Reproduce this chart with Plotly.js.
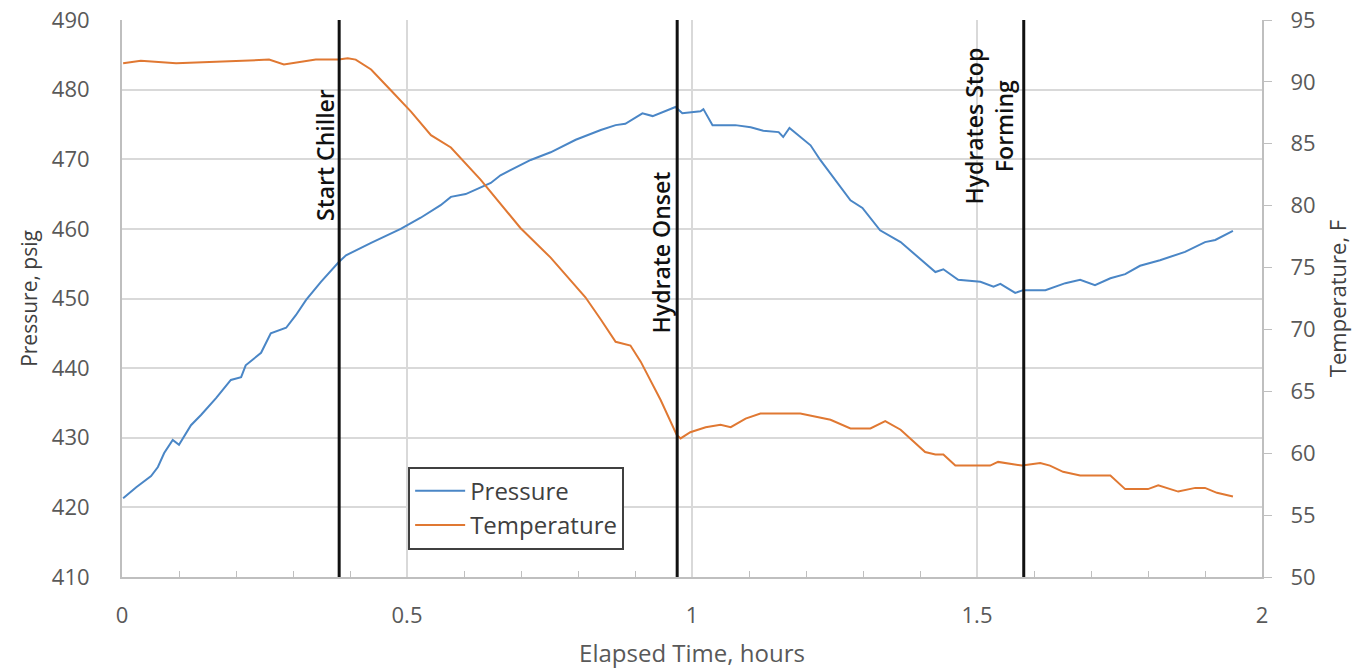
<!DOCTYPE html>
<html>
<head>
<meta charset="utf-8">
<script src="https://cdn.plot.ly/plotly-3.0.1.min.js"></script>
<style>html,body{margin:0;padding:0;background:#fff;}#chart{width:1352px;height:669px;}</style>
</head>
<body>
<div id="chart"></div>
<script>
// Pressure series (elapsed hours, psig)
const pressureTime = [0.002,0.025,0.051,0.063,0.074,0.089,0.100,0.121,0.139,0.165,0.191,0.209,0.217,0.244,0.261,0.288,0.305,0.323,0.349,0.380,0.393,0.437,0.489,0.524,0.559,0.577,0.603,0.647,0.664,0.717,0.752,0.796,0.840,0.866,0.883,0.913,0.931,0.971,0.983,1.015,1.020,1.036,1.076,1.103,1.125,1.152,1.160,1.171,1.208,1.225,1.278,1.299,1.330,1.366,1.427,1.441,1.467,1.506,1.529,1.541,1.567,1.581,1.620,1.655,1.681,1.707,1.734,1.760,1.786,1.821,1.865,1.900,1.918,1.949];
const pressure = [421.3,422.9,424.5,425.8,427.8,429.7,429.0,431.8,433.3,435.7,438.3,438.7,440.4,442.2,445.0,445.8,447.6,449.8,452.4,455.2,456.2,458.0,460.0,461.6,463.4,464.6,465.0,466.6,467.7,469.9,471.0,472.8,474.2,474.9,475.1,476.6,476.2,477.5,476.6,476.9,477.2,474.9,474.9,474.6,474.1,473.9,473.2,474.5,472.0,469.9,464.1,463.0,459.8,458.1,453.8,454.2,452.7,452.4,451.7,452.1,450.8,451.2,451.2,452.2,452.7,451.9,452.9,453.5,454.7,455.5,456.7,458.1,458.4,459.7];

// Temperature series (elapsed hours, F)
const tempTime = [0.002,0.033,0.095,0.156,0.217,0.258,0.284,0.314,0.340,0.380,0.396,0.410,0.437,0.472,0.507,0.542,0.577,0.629,0.699,0.752,0.813,0.840,0.866,0.892,0.910,0.945,0.973,0.980,0.997,1.024,1.050,1.068,1.094,1.120,1.190,1.243,1.278,1.313,1.339,1.366,1.409,1.427,1.441,1.462,1.523,1.537,1.579,1.611,1.628,1.651,1.681,1.734,1.760,1.800,1.818,1.853,1.883,1.900,1.921,1.949];
const temperature = [91.5,91.7,91.5,91.6,91.7,91.8,91.4,91.6,91.8,91.8,91.9,91.8,91.0,89.3,87.6,85.7,84.7,82.1,78.2,75.8,72.6,70.8,69.0,68.7,67.4,64.3,61.5,61.2,61.7,62.1,62.3,62.1,62.8,63.2,63.2,62.7,62.0,62.0,62.6,61.9,60.1,59.9,59.9,59.0,59.0,59.3,59.0,59.2,59.0,58.5,58.2,58.2,57.1,57.1,57.4,56.9,57.2,57.2,56.8,56.5];

// Event markers
const eventTimes = [0.381, 0.974, 1.582];
const eventLabels = ["Start Chiller", "Hydrate Onset", "Hydrates Stop<br>Forming"];
const eventLabelY = [0.758, 0.583, 0.81];
const eventLabelShift = [-14, -16, -35];

const FONT = "'Open Sans', Lato, sans-serif";
const GREY = "#595959";
const DARK = "#404040";

const traces = [
  {x: pressureTime, y: pressure, name: "Pressure", type: "scatter", mode: "lines",
   line: {color: "#4a86c6", width: 2}, yaxis: "y"},
  {x: tempTime, y: temperature, name: "Temperature", type: "scatter", mode: "lines",
   line: {color: "#e07832", width: 2}, yaxis: "y2"}
];

const shapes = eventTimes.map(t => ({
  type: "line", xref: "x", yref: "paper", x0: t, x1: t, y0: 0, y1: 1,
  line: {color: "#111111", width: 3}
}));

const annotations = eventTimes.map((t, i) => ({
  x: t, xref: "x", y: eventLabelY[i], yref: "paper",
  text: eventLabels[i], textangle: -90, showarrow: false,
  xanchor: "center", yanchor: "middle", xshift: eventLabelShift[i],
  font: {family: FONT, size: 23, color: "#111111", weight: 600}
}));

const layout = {
  width: 1352, height: 669,
  margin: {l: 122, r: 90, t: 20, b: 92},
  paper_bgcolor: "#ffffff", plot_bgcolor: "#ffffff",
  font: {family: FONT, color: GREY, size: 21},
  showlegend: true,
  legend: {x: 0.251, y: 0.198, xanchor: "left", yanchor: "top",
           bgcolor: "#ffffff", bordercolor: "#404040", borderwidth: 2,
           itemwidth: 50,
           font: {family: FONT, size: 24, color: DARK}},
  xaxis: {
    range: [0, 2], dtick: 0.5, tick0: 0, showgrid: true, gridcolor: "#d9d9d9", gridwidth: 1.5,
    showline: true, linecolor: "#bfbfbf", linewidth: 2, zeroline: false,
    ticks: "", ticklabelstandoff: 18,
    minor: {dtick: 0.1, ticks: "inside", ticklen: 6, tickcolor: "#bfbfbf", showgrid: false},
    title: {text: "Elapsed Time, hours", font: {family: FONT, size: 24, color: GREY}, standoff: 18},
    tickfont: {family: FONT, size: 22, color: GREY}
  },
  yaxis: {
    range: [410, 490], dtick: 10, showgrid: true, gridcolor: "#d9d9d9", gridwidth: 2,
    showline: true, linecolor: "#bfbfbf", linewidth: 2, zeroline: false,
    ticks: "", ticklabelstandoff: 26,
    title: {text: "Pressure, psig", font: {family: FONT, size: 21, color: DARK}, standoff: 8},
    tickfont: {family: FONT, size: 22, color: GREY}
  },
  yaxis2: {
    range: [50, 95], dtick: 5, overlaying: "y", side: "right", showgrid: false,
    showline: true, linecolor: "#bfbfbf", linewidth: 2, zeroline: false,
    ticks: "outside", ticklen: 8, tickcolor: "#bfbfbf", ticklabelstandoff: 14,
    title: {text: "Temperature, F", font: {family: FONT, size: 22, color: DARK}, standoff: 22},
    tickfont: {family: FONT, size: 22, color: GREY}
  },
  shapes: shapes,
  annotations: annotations
};

Plotly.newPlot("chart", traces, layout, {staticPlot: true, displayModeBar: false});
</script>
</body>
</html>
